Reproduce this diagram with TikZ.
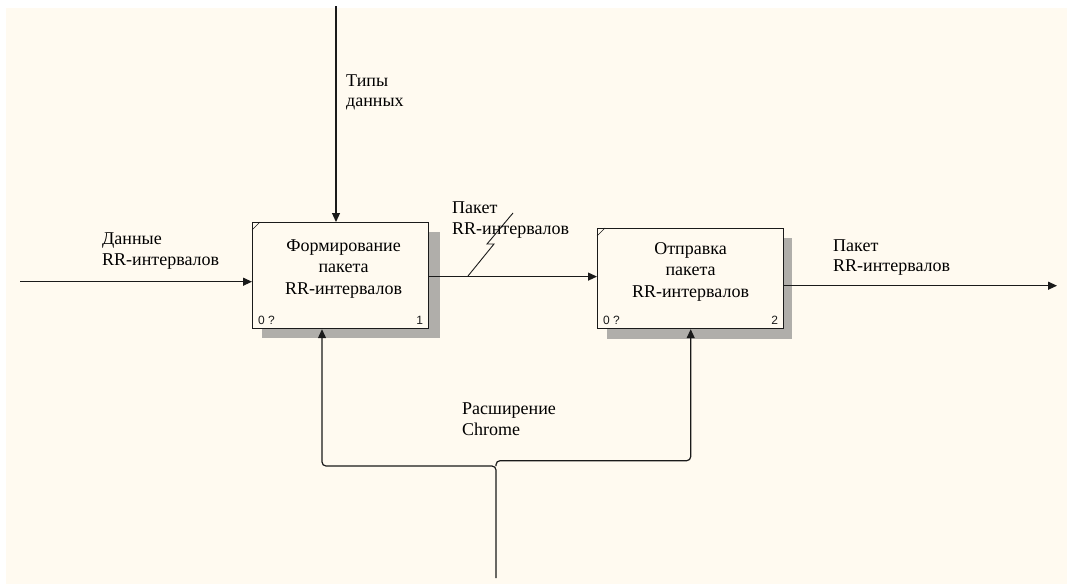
\documentclass[tikz,border=0pt]{standalone}
\usepackage{fontspec}
\setmainfont{Liberation Serif}
\newfontfamily\tagfont{Liberation Sans}
\usetikzlibrary{arrows.meta}

\definecolor{paper}{HTML}{FFFAF0}
\definecolor{ink}{HTML}{1A1A1A}

\tikzset{
  lbl/.style={font=\fontsize{18}{20.5}\selectfont, align=left, anchor=base west, inner sep=0pt},
  boxtext/.style={font=\fontsize{18}{21.5}\selectfont, align=center, inner sep=0pt},
  act/.style={draw=ink, line width=1.2pt, fill=paper, rectangle, anchor=north west, inner sep=0pt},
  shade/.style={fill=gray!62!paper},
  tag/.style={font=\tagfont\fontsize{12}{12}\selectfont, inner sep=0pt, text=ink},
  flow/.style={draw=ink, line width=1.2pt, -{Triangle[length=9pt,width=8pt]}}
}

\begin{document}
\begin{tikzpicture}[x=1pt,y=-1pt]
\useasboundingbox (0,0) rectangle (1067,584);
\fill[white] (0,0) rectangle (1067,584);
\fill[paper] (6,8) rectangle (1067,584);

% drop shadows of the activity boxes
\fill[shade] (428,232) rectangle (440,338);
\fill[shade] (262,328) rectangle (440,338);
\fill[shade] (783,238) rectangle (792,339);
\fill[shade] (607,328) rectangle (792,339);

% activity boxes
\node[act, minimum width=176pt, minimum height=106pt] (b1) at (252,222) {};
\node[act, minimum width=186pt, minimum height=100pt] (b2) at (597,228) {};

% corner ticks
\draw[ink, line width=0.6pt] ([yshift=-8pt]b1.north west) -- ([xshift=8pt]b1.north west);
\draw[ink, line width=0.6pt] ([yshift=-8pt]b2.north west) -- ([xshift=8pt]b2.north west);

% box texts
\node[boxtext] (t1) at ([xshift=3pt,yshift=7pt]b1.center) {Формирование\\пакета\\RR-интервалов};
\node[boxtext] (t2) at ([yshift=7pt]b2.center) {Отправка\\пакета\\RR-интервалов};

% box numbers
\node[tag, anchor=base west] (n1a) at ([xshift=6pt,yshift=5pt]b1.south west) {0 ?};
\node[tag, anchor=base east] (n1b) at ([xshift=-6pt,yshift=5pt]b1.south east) {1};
\node[tag, anchor=base west] (n2a) at ([xshift=6pt,yshift=5pt]b2.south west) {0 ?};
\node[tag, anchor=base east] (n2b) at ([xshift=-6pt,yshift=5pt]b2.south east) {2};

% free ends of the boundary arrows
\coordinate (inL) at (20,281.7);
\coordinate (ctop) at (336,6);
\coordinate (outR) at (1057,285.7);
\coordinate (mb) at (496,578);
\coordinate (jn) at (496,466);
\coordinate (m1) at (322,466);
\coordinate (m2) at (690.7,460.7);

% input
\draw[flow] (inL) -- (b1.west |- inL);
% control
\draw[flow] (ctop) -- (ctop |- b1.north);
% box 1 to box 2
\draw[flow] ([yshift=-1pt]b1.east) -- ([yshift=-1pt]b2.west |- b1.east);
% output
\draw[flow] (b2.east |- outR) -- (outR);
% mechanism branches
\draw[flow, rounded corners=4pt] (mb) -- (jn) -- (m1) -- (m1 |- b1.south);
\draw[flow, rounded corners=4pt] (jn) |- (m2) -- (m2 |- b2.south);

% squiggle tying the label to the arrow
\draw[ink, line width=0.9pt] (468,276) -- (494,244) -- (487,244) -- (513,213);

% arrow labels (anchored at the baseline of their last line)
\node[lbl] (l1) at (102,265) {Данные\\RR-интервалов};
\node[lbl] (l2) at (346,106.7) {Типы\\данных};
\node[lbl] (l3) at (452,234) {Пакет\\RR-интервалов};
\node[lbl] (l4) at (833,271.7) {Пакет\\RR-интервалов};
\node[lbl] (l5) at (462,435) {Расширение\\Chrome};
\end{tikzpicture}
\end{document}
